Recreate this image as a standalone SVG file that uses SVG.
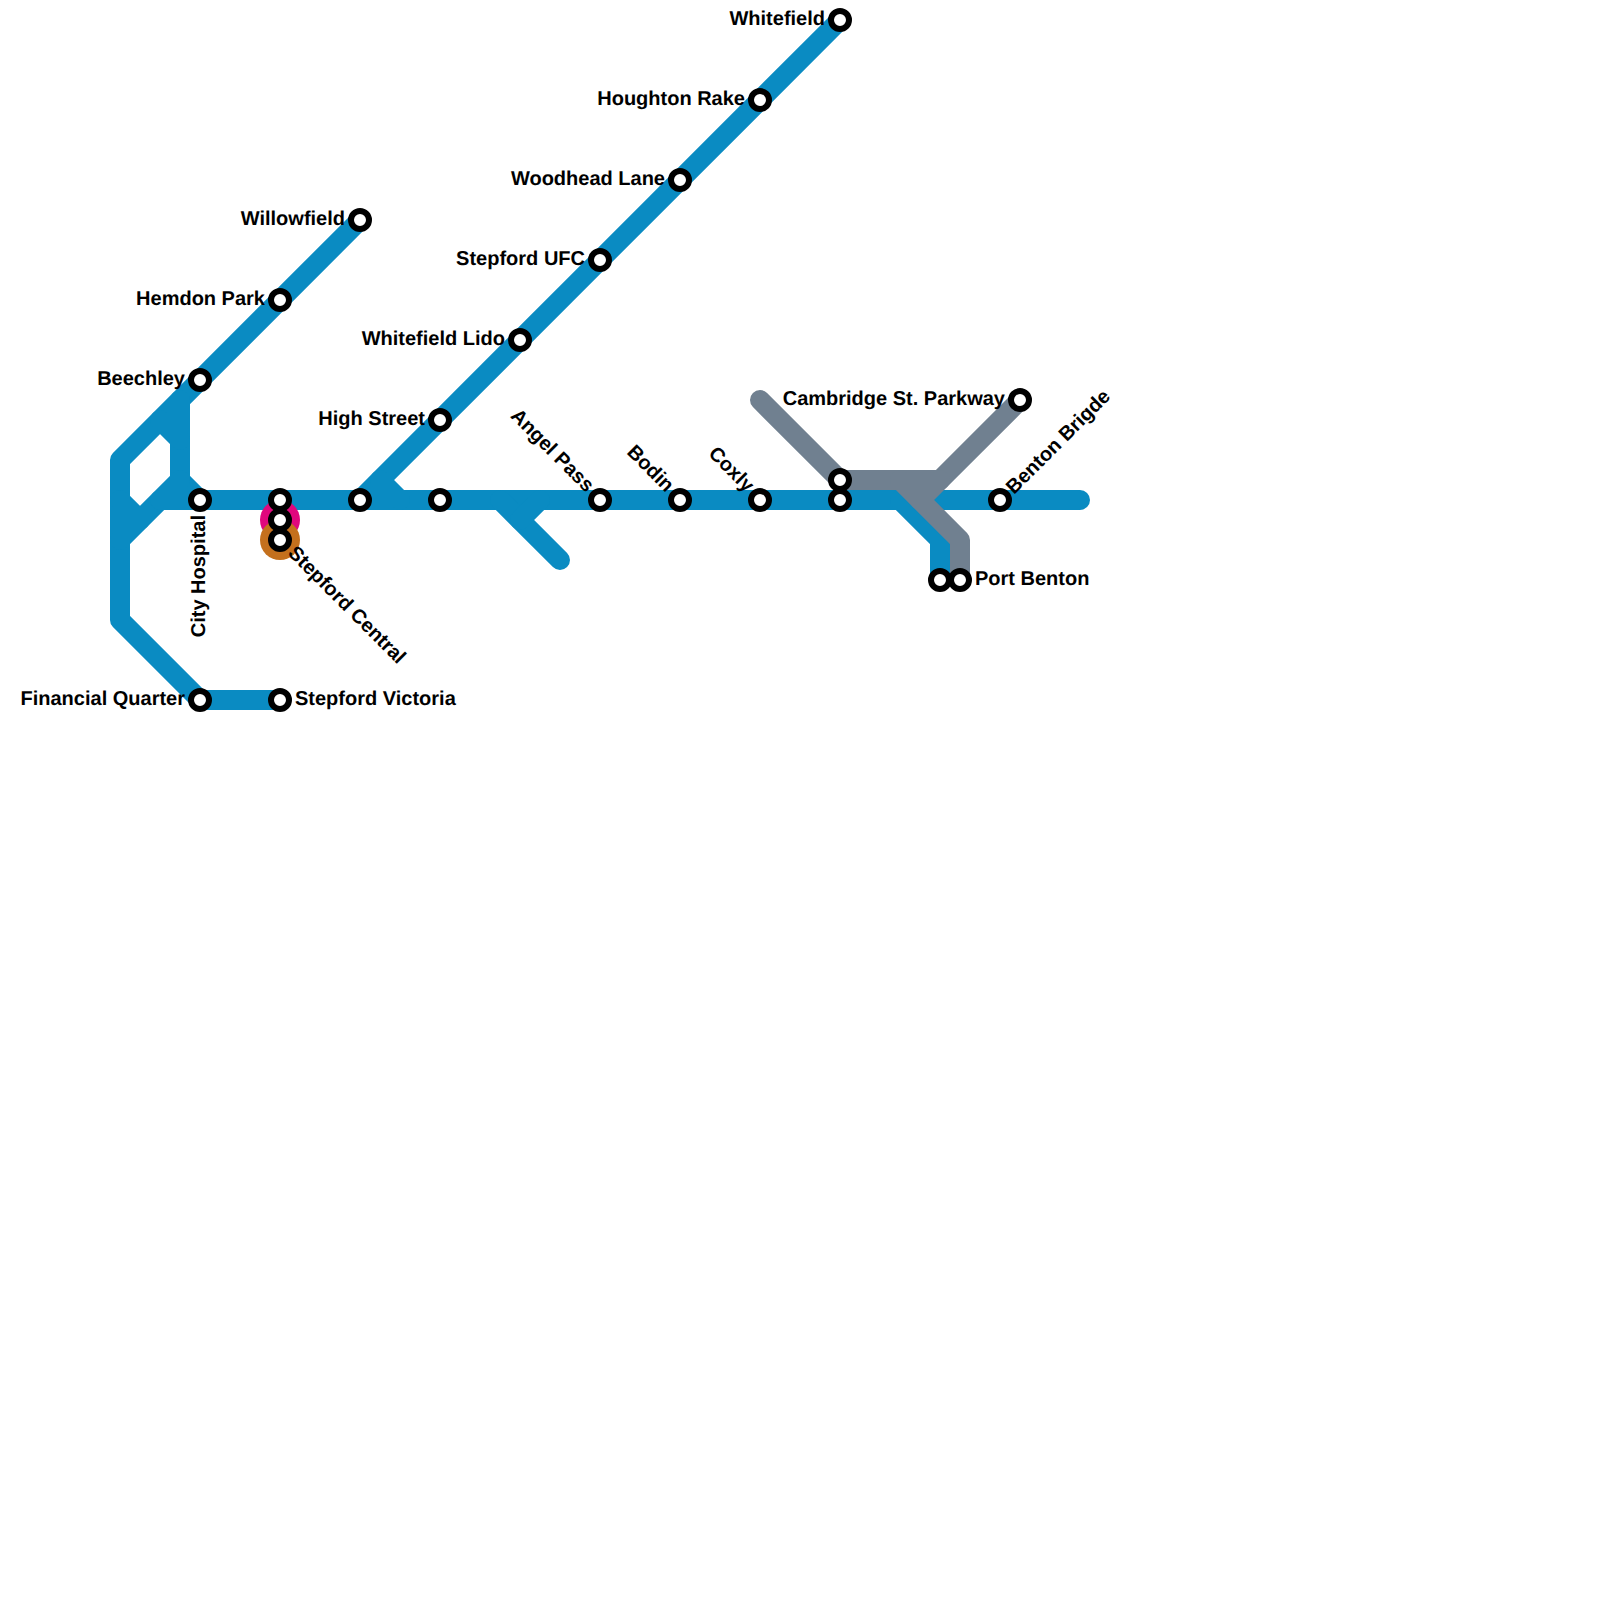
<svg xmlns="http://www.w3.org/2000/svg" width="1600" height="1600" viewBox="0 0 1600 1600">
<style>
.l{fill:none;stroke-width:20;stroke-linecap:round;stroke-linejoin:round}
.b{stroke:#0a8bc2}.g{stroke:#708090}
.s{fill:#fff;stroke:#000;stroke-width:6}
text{font-family:"Liberation Sans",Arial,sans-serif;font-weight:700;font-size:20px;fill:#000;text-rendering:geometricPrecision}
.e{text-anchor:end}
</style>
<rect width="1600" height="1600" fill="#fff"/>
<g id="connectors">
<path class="l b" d="M360 220L120 460V620L200 700H280"/>
<path class="l b" d="M180 400V480L200 500"/>
<path class="l b" d="M160 420L180 440"/>
<path class="l b" d="M120 500L140 520"/>
<path class="l b" d="M120 540L180 480"/>
<path class="l b" d="M160 500H1080"/>
<path class="l b" d="M840 20L360 500"/>
<path class="l b" d="M380 480L400 500"/>
<path class="l b" d="M500 500L560 560"/>
<path class="l b" d="M520 520L540 500"/>
<path class="l b" d="M900 500L940 540V580"/>
<path class="l g" d="M760 400L840 480H940L1020 400"/>
<path class="l g" d="M940 480L920 500"/>
<path class="l g" d="M900 480L960 540V580"/>
</g>
<g id="stepford-central">
<circle cx="280" cy="520" r="20" fill="#e0077d"/>
<circle cx="280" cy="540" r="20" fill="#c4701d"/>
<circle class="s" cx="280" cy="500" r="9"/>
<circle class="s" cx="280" cy="520" r="9"/>
<circle class="s" cx="280" cy="540" r="9"/>
<text transform="translate(287,554) rotate(45)">Stepford Central</text>
</g>
<g id="whitefield"><circle class="s" cx="840" cy="20" r="9"/><text class="e" x="825" y="25">Whitefield</text></g>
<g id="houghton-rake"><circle class="s" cx="760" cy="100" r="9"/><text class="e" x="745" y="105">Houghton Rake</text></g>
<g id="woodhead-lane"><circle class="s" cx="680" cy="180" r="9"/><text class="e" x="665" y="185">Woodhead Lane</text></g>
<g id="stepford-ufc"><circle class="s" cx="600" cy="260" r="9"/><text class="e" x="585" y="265">Stepford UFC</text></g>
<g id="whitefield-lido"><circle class="s" cx="520" cy="340" r="9"/><text class="e" x="505" y="345">Whitefield Lido</text></g>
<g id="high-street"><circle class="s" cx="440" cy="420" r="9"/><text class="e" x="425" y="425">High Street</text></g>
<g id="willowfield"><circle class="s" cx="360" cy="220" r="9"/><text class="e" x="345" y="225">Willowfield</text></g>
<g id="hemdon-park"><circle class="s" cx="280" cy="300" r="9"/><text class="e" x="265" y="305">Hemdon Park</text></g>
<g id="beechley"><circle class="s" cx="200" cy="380" r="9"/><text class="e" x="185" y="385">Beechley</text></g>
<g id="city-hospital"><circle class="s" cx="200" cy="500" r="9"/><text transform="translate(205,515) rotate(-90)" text-anchor="end">City Hospital</text></g>
<g id="financial-quarter"><circle class="s" cx="200" cy="700" r="9"/><text class="e" x="185" y="705">Financial Quarter</text></g>
<g id="stepford-victoria"><circle class="s" cx="280" cy="700" r="9"/><text x="295" y="705">Stepford Victoria</text></g>
<g id="junction-360"><circle class="s" cx="360" cy="500" r="9"/></g>
<g id="junction-440"><circle class="s" cx="440" cy="500" r="9"/></g>
<g id="angel-pass"><circle class="s" cx="600" cy="500" r="9"/><text class="e" transform="translate(586,493) rotate(45)">Angel Pass</text></g>
<g id="bodin"><circle class="s" cx="680" cy="500" r="9"/><text class="e" transform="translate(666,493) rotate(45)">Bodin</text></g>
<g id="coxly"><circle class="s" cx="760" cy="500" r="9"/><text class="e" transform="translate(746,493) rotate(45)">Coxly</text></g>
<g id="junction-840"><circle class="s" cx="840" cy="480" r="9"/><circle class="s" cx="840" cy="500" r="9"/></g>
<g id="port-benton"><circle class="s" cx="940" cy="580" r="9"/><circle class="s" cx="960" cy="580" r="9"/><text x="975" y="585">Port Benton</text></g>
<g id="cambridge-st-parkway"><circle class="s" cx="1020" cy="400" r="9"/><text class="e" x="1005" y="405">Cambridge St. Parkway</text></g>
<g id="benton-brigde"><circle class="s" cx="1000" cy="500" r="9"/><text transform="translate(1014,495) rotate(-45)">Benton Brigde</text></g>
</svg>
